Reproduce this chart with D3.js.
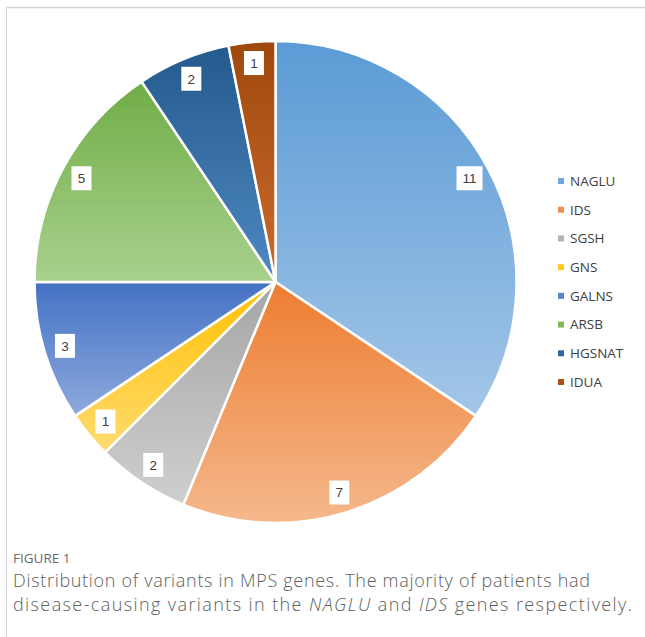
<!DOCTYPE html>
<meta charset="utf-8">
<script src="https://cdn.jsdelivr.net/npm/d3@7"></script>
<style>
body { margin: 0; background: #fff; }
svg { display: block; }
.lbl-text { font-family: "Liberation Sans", Arial, sans-serif; font-size: 13.5px; fill: #404040; }
.legend text { font-family: "Open Sans", sans-serif; font-size: 13.5px; fill: #404040; }
.caption { font-family: "Open Sans", sans-serif; fill: #5e5e5e; font-weight: 300; }
</style>
<body>
<div id="chart"></div>
<script>
// ---- data ----
const genes  = ["NAGLU", "IDS", "SGSH", "GNS", "GALNS", "ARSB", "HGSNAT", "IDUA"];
const counts = [11, 7, 2, 1, 3, 5, 2, 1];

// gradient colours, top -> bottom of each slice
const topColors    = ["#5b9bd5", "#ed7d31", "#a5a5a5", "#ffc000", "#4472c4", "#70ad47", "#245a8d", "#9e480e"];
const bottomColors = ["#a3c6e8", "#f5b88c", "#cfcfcf", "#ffdb70", "#8ea9dd", "#a9d18e", "#4f89c2", "#cc6b2c"];

const width = 645, height = 637;
const cx = 275.5, cy = 282, radius = 241;

const svg = d3.select("#chart").append("svg")
    .attr("width", width)
    .attr("height", height);

// frame lines (top + left)
svg.append("line").attr("x1", 6).attr("x2", width).attr("y1", 7.5).attr("y2", 7.5)
    .attr("stroke", "#d4d4d4").attr("stroke-width", 1.5);
svg.append("line").attr("x1", 6.5).attr("x2", 6.5).attr("y1", 7).attr("y2", height)
    .attr("stroke", "#d4d4d4").attr("stroke-width", 1);

const defs = svg.append("defs");
genes.forEach(function(g, i) {
    const grad = defs.append("linearGradient")
        .attr("id", "grad" + i)
        .attr("x1", 0).attr("y1", 0).attr("x2", 0).attr("y2", 1);
    grad.append("stop").attr("offset", "0%").attr("stop-color", topColors[i]);
    grad.append("stop").attr("offset", "100%").attr("stop-color", bottomColors[i]);
});

const pie = d3.pie().sort(null).value(function(d) { return d; });
const arcs = pie(counts);

const arc = d3.arc().innerRadius(0).outerRadius(radius);
const labelArc = d3.arc().innerRadius(220).outerRadius(220);

const g = svg.append("g").attr("transform", "translate(" + cx + "," + cy + ")");

g.selectAll("path.slice")
    .data(arcs)
    .enter()
    .append("path")
    .attr("class", "slice")
    .attr("d", arc)
    .attr("fill", function(d, i) { return "url(#grad" + i + ")"; })
    .attr("stroke", "#fff")
    .attr("stroke-width", 2.5)
    .attr("stroke-linejoin", "round");

// value labels in white boxes
const lbl = g.selectAll("g.lbl")
    .data(arcs)
    .enter()
    .append("g")
    .attr("class", "lbl")
    .attr("transform", function(d) { return "translate(" + labelArc.centroid(d) + ")"; });

lbl.append("rect")
    .attr("x", function(d) { return d.data > 9 ? -13 : -10; })
    .attr("width", function(d) { return d.data > 9 ? 26 : 20; })
    .attr("y", -12)
    .attr("height", 24)
    .attr("fill", "#fff");

lbl.append("text")
    .attr("class", "lbl-text")
    .attr("text-anchor", "middle")
    .attr("dy", "0.36em")
    .text(function(d) { return d.data; });

// legend
const legendY = d3.scalePoint().domain(genes).range([181, 382]);
const legend = svg.append("g").attr("class", "legend")
    .selectAll("g")
    .data(genes)
    .enter()
    .append("g")
    .attr("transform", function(d) { return "translate(558," + legendY(d) + ")"; });

legend.append("rect")
    .attr("x", 0).attr("y", -3)
    .attr("width", 6).attr("height", 6)
    .attr("fill", function(d, i) { return d3.interpolateRgb(topColors[i], bottomColors[i])(0.3); });

legend.append("text")
    .attr("x", 12)
    .attr("dy", "0.36em")
    .text(function(d) { return d; });

// caption
const cap = svg.append("g").attr("class", "caption");
cap.append("text")
    .attr("x", 13).attr("y", 563)
    .style("font-size", "13.5px")
    .style("font-weight", 500)
    .style("fill", "#6a6a6a")
    .text("FIGURE 1");

cap.append("text")
    .attr("x", 13).attr("y", 587)
    .attr("textLength", 577)
    .attr("lengthAdjust", "spacing")
    .style("font-size", "18px")
    .text("Distribution of variants in MPS genes. The majority of patients had");

const line2 = cap.append("text")
    .attr("x", 13).attr("y", 611)
    .attr("textLength", 619)
    .attr("lengthAdjust", "spacing")
    .style("font-size", "18px");
line2.append("tspan").text("disease-causing variants in the ");
line2.append("tspan").style("font-style", "italic").text("NAGLU");
line2.append("tspan").text(" and ");
line2.append("tspan").style("font-style", "italic").text("IDS");
line2.append("tspan").text(" genes respectively.");
</script>
</body>
